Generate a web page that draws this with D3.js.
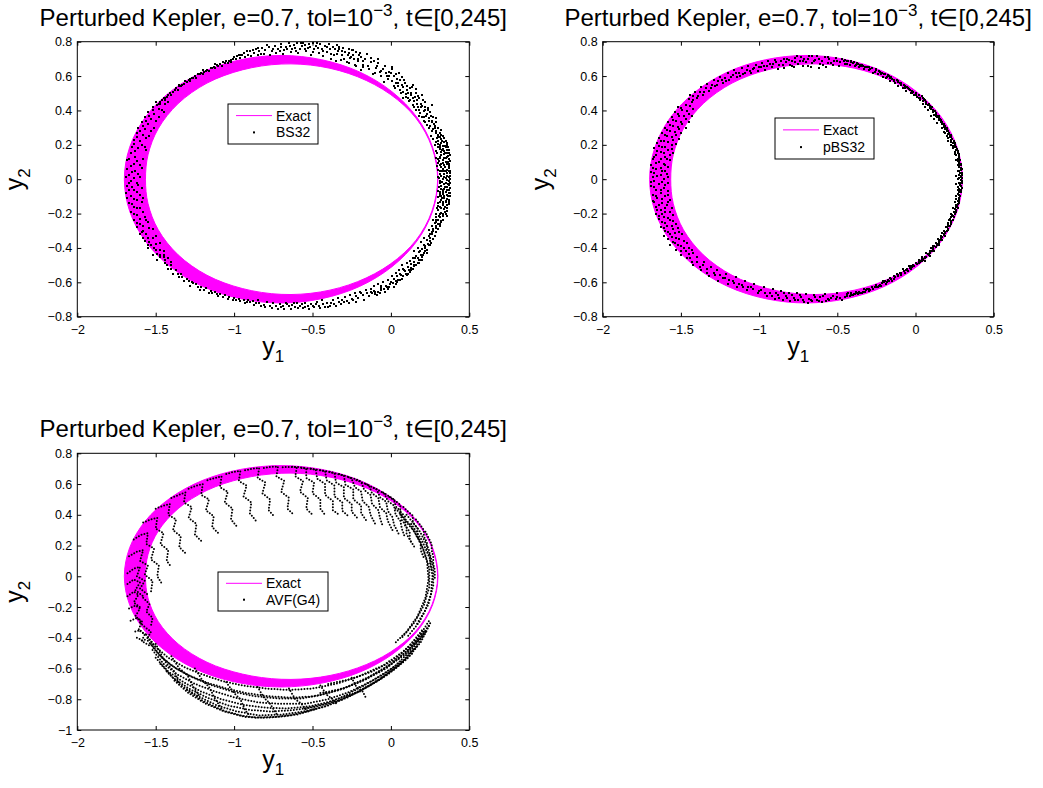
<!DOCTYPE html>
<html>
<head>
<meta charset="utf-8">
<script src="https://cdn.jsdelivr.net/npm/d3@7"></script>
<style>
body { margin: 0; background: #fff; }
text { font-family: "Liberation Sans", Arial, Helvetica, sans-serif; }
</style>
</head>
<body>
<div id="chart"></div>
<script>
// ticks
const xTicks = [-2, -1.5, -1, -0.5, 0, 0.5];
const yTicksTop = [-0.8, -0.6, -0.4, -0.2, 0, 0.2, 0.4, 0.6, 0.8];
const yTicksBottom = [-1, -0.8, -0.6, -0.4, -0.2, 0, 0.2, 0.4, 0.6, 0.8];

// exact solution band (outer / inner edge)
const exactOuter = [[0.30,0],[0.266,0.186],[0.166,0.36],[0.007,0.509],[-0.20,0.624],[-0.441,0.695],[-0.70,0.72],[-0.959,0.695],[-1.20,0.624],[-1.407,0.509],[-1.566,0.36],[-1.666,0.186],[-1.70,0],
  [-1.666,-0.186],[-1.566,-0.36],[-1.407,-0.509],[-1.20,-0.624],[-0.959,-0.695],[-0.70,-0.72],[-0.441,-0.695],[-0.20,-0.624],[0.007,-0.509],[0.166,-0.36],[0.266,-0.186]];
const exactInner = [[0.298,0],[0.262,0.185],[0.160,0.355],[-0.004,0.494],[-0.212,0.596],[-0.449,0.656],[-0.70,0.67],[-0.948,0.636],[-1.173,0.559],[-1.357,0.44],[-1.484,0.294],[-1.549,0.142],[-1.565,0],
  [-1.549,-0.142],[-1.484,-0.294],[-1.357,-0.44],[-1.173,-0.559],[-0.948,-0.636],[-0.70,-0.67],[-0.449,-0.656],[-0.212,-0.596],[-0.004,-0.494],[0.160,-0.355],[0.262,-0.185]];

// BS32 points
const bs32Dots = [
 [-1.50,0.45],[-1.47,0.44],[-1.42,0.45],[-1.52,0.42],[-1.48,0.41],[-1.55,0.39],[-1.51,0.38],[-1.45,0.39],[-1.57,0.36],[-1.53,0.35],[-1.48,0.36],[-1.59,0.33],[-1.55,0.32],[-1.61,0.30],[-1.57,0.29],[-1.51,0.30],[-1.62,0.27],[-1.58,0.26],[-1.54,0.25],[-1.64,0.23],[-1.60,0.22],[-1.65,0.19],[-1.61,0.18],[-1.56,0.17],[-1.66,0.15],[-1.63,0.13],[-1.58,0.12],[-1.68,0.11],[-1.64,0.09],[-1.60,0.08],[-1.68,0.06],[-1.65,0.04],[-1.61,0.03],[-1.69,0.01],[-1.66,-0.01],[-1.62,-0.02],[-1.68,-0.04],[-1.64,-0.06],[-1.59,-0.05],[-1.69,-0.08],[-1.66,-0.10],[-1.62,-0.12],[-1.58,-0.11],[-1.67,-0.14],[-1.64,-0.16],[-1.60,-0.17],[-1.66,-0.19],[-1.62,-0.21],[-1.57,-0.22],[-1.64,-0.24],[-1.60,-0.26],[-1.55,-0.25],[-1.62,-0.28],[-1.58,-0.30],[-1.52,-0.29],[-1.60,-0.32],[-1.55,-0.34],[-1.50,-0.33],[-1.57,-0.36],[-1.53,-0.38],[-1.47,-0.37],[-1.55,-0.40],[-1.50,-0.41],[-1.45,-0.42],[-1.52,-0.44],[-1.47,-0.45],[-1.42,-0.46],[-1.49,-0.47],
 [-1.52,0.40],[-1.46,0.40],[-1.49,0.43],[-1.44,0.44],[-1.54,0.37],[-1.50,0.34],[-1.56,0.34],[-1.58,0.31],[-1.53,0.28],[-1.60,0.28],[-1.56,0.24],[-1.62,0.245],[-1.59,0.20],[-1.64,0.205],[-1.57,0.19],[-1.63,0.165],[-1.67,0.12],[-1.62,0.105],[-1.59,0.065],[-1.66,0.075],[-1.63,0.045],[-1.67,0.025],[-1.60,0.015],[-1.64,0.005],[-1.67,-0.025],[-1.61,-0.035],[-1.65,-0.045],[-1.62,-0.075],[-1.67,-0.065],[-1.60,-0.09],[-1.64,-0.115],[-1.68,-0.11],[-1.59,-0.135],[-1.65,-0.145],[-1.62,-0.165],[-1.58,-0.19],[-1.64,-0.205],[-1.60,-0.23],[-1.56,-0.235],[-1.62,-0.255],[-1.58,-0.275],[-1.54,-0.285],[-1.59,-0.305],[-1.56,-0.32],[-1.52,-0.345],[-1.58,-0.345],[-1.54,-0.365],[-1.50,-0.375],[-1.55,-0.385],[-1.51,-0.40],[-1.47,-0.41],[-1.49,-0.435],[-1.45,-0.44],[-1.44,-0.47],[-1.40,-0.48],
 [-1.47,0.45],[-1.45,0.47],[-1.43,0.48],[-1.44,0.46],[-1.41,0.50],[-1.39,0.51],[-1.40,0.49],[-1.37,0.53],[-1.35,0.54],[-1.36,0.52],[-1.33,0.55],[-1.31,0.57],[-1.32,0.555],[-1.29,0.575],[-1.27,0.59],[-1.28,0.57],[-1.25,0.60],[-1.23,0.61],[-1.24,0.59],[-1.21,0.62],[-1.19,0.625],[-1.20,0.61],[-1.17,0.635],[-1.15,0.645],[-1.16,0.63],[-1.13,0.65],[-1.11,0.665],[-1.12,0.645],[-1.09,0.67],[-1.07,0.68],[-1.08,0.66],[-1.05,0.685],[-1.03,0.69],[-1.04,0.675],[-1.01,0.70],[-1.02,0.68],
 [-1.48,0.44],[-1.46,0.46],[-1.42,0.49],[-1.38,0.52],[-1.34,0.545],[-1.30,0.565],[-1.26,0.59],[-1.22,0.61],[-1.18,0.63],[-1.14,0.645],[-1.10,0.66],[-1.06,0.675],[-1.02,0.695],[-1.00,0.71],[-0.96,0.72],[-1.12,0.67],[-1.20,0.635],[-1.28,0.585],[-1.35,0.55],[-1.44,0.475],
 [-0.99,0.70],[-0.98,0.715],[-0.96,0.705],[-0.95,0.72],[-0.94,0.735],[-0.93,0.71],[-0.91,0.725],[-0.90,0.745],[-0.89,0.715],[-0.87,0.735],[-0.86,0.755],[-0.85,0.72],[-0.84,0.745],[-0.82,0.765],[-0.81,0.73],[-0.80,0.75],[-0.78,0.77],[-0.77,0.725],[-0.76,0.745],[-0.74,0.775],[-0.73,0.735],[-0.72,0.76],[-0.70,0.785],[-0.69,0.73],[-0.68,0.75],[-0.67,0.77],[-0.65,0.79],[-0.64,0.74],[-0.63,0.76],[-0.62,0.78],[-0.60,0.795],[-0.59,0.735],[-0.58,0.755],[-0.57,0.775],[-0.56,0.79],[-0.54,0.745],[-0.53,0.765],[-0.52,0.785],[-0.51,0.725],[-0.49,0.755],[-0.48,0.775],[-0.47,0.79],[-0.46,0.735],[-0.44,0.76],[-0.43,0.715],[-0.42,0.775],[-0.41,0.74],[-0.39,0.755],[-0.38,0.70],[-0.37,0.77],[-0.36,0.725],[-0.34,0.745],[-0.33,0.76],[-0.32,0.695],[-0.31,0.72],[-0.29,0.74],[-0.28,0.68],[-0.27,0.755],[-0.26,0.705],[-0.24,0.725],[-0.23,0.665],[-0.22,0.74],[-0.21,0.69],[-0.19,0.71],[-0.18,0.65],
 [-0.97,0.725],[-0.92,0.745],[-0.88,0.75],[-0.85,0.765],[-0.83,0.73],[-0.79,0.78],[-0.75,0.76],[-0.71,0.745],[-0.70,0.77],[-0.66,0.76],[-0.645,0.775],[-0.61,0.765],[-0.605,0.745],[-0.575,0.795],[-0.55,0.76],[-0.545,0.78],[-0.515,0.77],[-0.50,0.79],[-0.495,0.74],[-0.465,0.765],[-0.45,0.785],[-0.435,0.745],[-0.405,0.77],[-0.395,0.785],[-0.385,0.73],[-0.355,0.76],[-0.345,0.78],[-0.315,0.745],[-0.305,0.765],[-0.275,0.72],[-0.265,0.735],[-0.245,0.75],[-0.235,0.70],[-0.205,0.72],[-0.195,0.735],[-0.175,0.685],[-0.165,0.70],[-0.145,0.66],[-0.125,0.705],[-0.105,0.69],
 [-0.353,0.690],[-0.343,0.729],[-0.333,0.768],[-0.268,0.675],[-0.255,0.713],[-0.242,0.751],[-0.192,0.636],[-0.181,0.664],[-0.166,0.701],[-0.154,0.729],[-0.113,0.612],[-0.095,0.648],[-0.081,0.674],[-0.047,0.564],[-0.026,0.598],[-0.011,0.624],[0.005,0.650],[0.024,0.529],[0.048,0.562],[0.071,0.595],[0.079,0.474],[0.098,0.497],[0.124,0.528],[0.144,0.550],[0.140,0.431],[0.169,0.459],[0.198,0.487],[0.182,0.370],[0.213,0.395],[0.236,0.414],[0.259,0.432],[0.231,0.318],[0.265,0.340],[0.290,0.357],[0.258,0.253],[0.285,0.267],[0.320,0.285],
 [-0.30,0.70],[-0.29,0.74],[-0.22,0.66],[-0.21,0.70],[-0.14,0.64],[-0.13,0.68],[-0.06,0.60],[-0.05,0.64],[0.01,0.57],[0.03,0.61],[0.06,0.52],[0.09,0.56],[0.11,0.50],[0.12,0.46],[0.16,0.50],[0.17,0.42],[0.19,0.44],[0.21,0.36],[0.23,0.38],[0.25,0.31],[0.28,0.31],[0.27,0.29],[0.30,0.26],[0.33,0.25],
 [-0.07,0.625],[-0.04,0.66],[-0.02,0.585],[0.00,0.62],[0.02,0.545],[0.04,0.585],[0.05,0.62],[0.07,0.55],[0.08,0.51],[0.10,0.54],[0.11,0.475],[0.13,0.50],[0.15,0.455],[0.16,0.525],[0.18,0.40],[0.18,0.47],[0.20,0.425],[0.22,0.45],[0.21,0.34],[0.22,0.40],[0.24,0.355],[0.25,0.39],[0.26,0.33],[0.27,0.36],[0.28,0.295],[0.29,0.33],[0.30,0.30],[0.31,0.27],[0.32,0.26],[0.34,0.24],
 [-0.10,0.62],[-0.09,0.66],[-0.08,0.70],[-0.06,0.63],[-0.03,0.62],[-0.01,0.60],[0.01,0.64],[0.02,0.60],[0.035,0.56],[0.045,0.54],[0.06,0.575],[0.065,0.50],[0.08,0.535],[0.085,0.58],[0.095,0.48],[0.105,0.52],[0.115,0.455],[0.125,0.49],[0.135,0.535],[0.14,0.47],[0.145,0.42],[0.155,0.48],[0.16,0.40],[0.165,0.44],[0.175,0.485],[0.185,0.385],[0.19,0.42],[0.20,0.36],[0.205,0.46],[0.215,0.42],[0.22,0.33],[0.225,0.37],[0.235,0.40],[0.24,0.30],[0.245,0.34],[0.255,0.37],[0.265,0.28],[0.275,0.32],[0.29,0.28],[0.30,0.245],
 [0.31,-0.22],[0.33,-0.215],[0.29,-0.20],[0.32,-0.195],[0.35,-0.20],[0.30,-0.18],[0.34,-0.175],[0.31,-0.16],[0.36,-0.165],[0.33,-0.15],[0.30,-0.14],[0.35,-0.135],[0.37,-0.145],[0.32,-0.12],[0.34,-0.11],[0.36,-0.115],[0.31,-0.10],[0.375,-0.10],[0.33,-0.085],[0.35,-0.075],[0.37,-0.08],[0.30,-0.07],[0.34,-0.055],[0.36,-0.045],[0.375,-0.05],[0.32,-0.04],[0.31,-0.02],[0.35,-0.02],[0.37,-0.01],[0.33,0.00],[0.375,0.00],[0.30,0.015],[0.36,0.02],[0.34,0.03],[0.375,0.035],[0.31,0.045],[0.35,0.05],[0.37,0.065],[0.32,0.07],[0.34,0.085],[0.36,0.09],[0.30,0.095],[0.33,0.11],[0.37,0.115],[0.35,0.125],[0.31,0.13],[0.34,0.145],[0.32,0.16],[0.36,0.155],[0.29,0.165],[0.33,0.175],[0.31,0.19],[0.35,0.185],[0.28,0.20],[0.32,0.21],[0.30,0.225],[0.34,0.215],[0.27,0.235],[0.31,0.245],
 [0.32,0.235],[0.35,0.225],[0.30,0.205],[0.36,0.20],[0.33,0.195],[0.31,0.175],[0.37,0.17],[0.34,0.165],[0.375,0.14],[0.32,0.14],[0.36,0.13],[0.30,0.115],[0.375,0.105],[0.35,0.10],[0.32,0.09],[0.37,0.075],[0.33,0.06],[0.36,0.055],[0.30,0.055],[0.375,0.045],[0.34,0.015],[0.32,0.02],[0.37,0.015],[0.36,-0.005],[0.31,-0.01],[0.375,-0.025],[0.34,-0.03],[0.33,-0.06],[0.37,-0.065],[0.31,-0.075],[0.355,-0.09],[0.32,-0.095],[0.37,-0.12],[0.33,-0.13],[0.355,-0.15],[0.30,-0.155],[0.345,-0.19],[0.31,-0.205],[0.36,-0.185],[0.33,-0.235],
 [0.295,0.24],[0.325,0.225],[0.355,0.21],[0.285,0.215],[0.315,0.2],[0.345,0.195],[0.365,0.185],[0.30,0.185],[0.325,0.17],[0.355,0.17],[0.295,0.15],[0.345,0.15],[0.37,0.155],[0.315,0.125],[0.34,0.125],[0.365,0.135],[0.29,0.125],[0.305,0.105],[0.335,0.095],[0.365,0.1],[0.31,0.085],[0.345,0.07],[0.37,0.09],[0.295,0.075],[0.325,0.045],[0.355,0.035],[0.31,0.03],[0.37,0.045],[0.34,0.045],[0.305,0.005],[0.325,-0.015],[0.35,0.005],[0.375,0.02],[0.365,-0.03],[0.32,-0.055],[0.345,-0.045],[0.37,-0.035],[0.305,-0.045],[0.33,-0.075],[0.36,-0.065],[0.375,-0.08],[0.315,-0.085],[0.34,-0.095],[0.365,-0.095],[0.30,-0.105],[0.325,-0.11],[0.35,-0.125],[0.37,-0.13],[0.31,-0.135],[0.335,-0.14],[0.36,-0.15],[0.32,-0.17],[0.345,-0.16],[0.295,-0.165],[0.335,-0.2],[0.305,-0.215],[0.355,-0.215],[0.32,-0.245],[0.29,-0.235],[0.31,-0.275],
 [-0.13,-0.64],[-0.11,-0.62],[-0.10,-0.655],[-0.08,-0.61],[-0.06,-0.635],[-0.05,-0.60],[-0.03,-0.62],[-0.02,-0.585],[0.00,-0.60],[0.01,-0.565],[0.02,-0.58],[0.03,-0.545],[0.04,-0.565],[0.05,-0.53],[0.06,-0.55],[0.08,-0.52],[0.07,-0.50],[0.09,-0.535],[0.10,-0.49],[0.11,-0.51],[0.12,-0.475],[0.13,-0.495],[0.14,-0.46],[0.15,-0.48],[0.16,-0.445],[0.15,-0.42],[0.17,-0.46],[0.18,-0.425],[0.19,-0.44],[0.17,-0.40],[0.20,-0.405],[0.21,-0.38],[0.19,-0.365],[0.22,-0.39],[0.23,-0.355],[0.21,-0.34],[0.24,-0.33],[0.25,-0.345],[0.26,-0.31],[0.24,-0.295],[0.27,-0.29],[0.26,-0.27],[0.28,-0.255],[0.29,-0.27],[0.27,-0.24],[0.30,-0.235],
 [0.20,-0.45],[0.22,-0.42],[0.18,-0.49],[0.14,-0.52],[0.11,-0.55],[0.07,-0.58],[0.03,-0.61],[-0.02,-0.64],[-0.07,-0.66],[0.25,-0.38],[0.28,-0.33],[0.30,-0.29],[0.32,-0.25],
 [0.29,-0.25],[0.31,-0.26],[0.27,-0.30],[0.29,-0.31],[0.25,-0.36],[0.27,-0.35],[0.23,-0.41],[0.24,-0.38],[0.21,-0.43],[0.20,-0.47],[0.16,-0.50],[0.18,-0.47],[0.13,-0.53],[0.15,-0.505],[0.10,-0.56],[0.12,-0.54],[0.06,-0.585],[0.08,-0.565],[0.02,-0.625],[0.04,-0.60],[-0.01,-0.625],[-0.04,-0.655],[-0.06,-0.62],[-0.09,-0.675],[-0.11,-0.65],[-0.14,-0.68],[-0.17,-0.70],[-0.19,-0.66],[-0.22,-0.715],[-0.12,-0.665],
 [0.285,-0.22],[0.30,-0.26],[0.285,-0.285],[0.265,-0.32],[0.25,-0.32],[0.255,-0.37],[0.235,-0.375],[0.23,-0.43],[0.215,-0.40],[0.205,-0.44],[0.19,-0.47],[0.185,-0.42],[0.17,-0.485],[0.155,-0.46],[0.145,-0.50],[0.125,-0.515],[0.115,-0.53],[0.095,-0.55],[0.085,-0.53],[0.065,-0.56],[0.045,-0.585],[0.035,-0.59],[0.015,-0.605],[-0.005,-0.61],[-0.025,-0.63],[-0.045,-0.64],[-0.065,-0.645],[-0.085,-0.655],[-0.10,-0.67],[-0.13,-0.655],
 [-0.84,-0.72],[-0.81,-0.73],[-0.79,-0.715],[-0.77,-0.735],[-0.75,-0.72],[-0.73,-0.74],[-0.71,-0.725],[-0.69,-0.735],[-0.67,-0.72],[-0.65,-0.74],[-0.63,-0.73],[-0.61,-0.745],[-0.60,-0.72],[-0.58,-0.735],[-0.56,-0.75],[-0.55,-0.72],[-0.53,-0.74],[-0.51,-0.725],[-0.49,-0.745],[-0.47,-0.715],[-0.46,-0.735],[-0.44,-0.70],[-0.42,-0.745],[-0.41,-0.72],[-0.39,-0.735],[-0.37,-0.705],[-0.36,-0.725],[-0.34,-0.69],[-0.33,-0.715],[-0.31,-0.70],[-0.29,-0.685],[-0.28,-0.71],[-0.26,-0.675],[-0.25,-0.695],[-0.23,-0.665],[-0.21,-0.69],[-0.20,-0.655],[-0.18,-0.675],[-0.16,-0.645],[-0.15,-0.665],
 [-0.83,-0.735],[-0.80,-0.745],[-0.76,-0.75],[-0.72,-0.755],[-0.70,-0.745],[-0.68,-0.755],[-0.66,-0.725],[-0.64,-0.755],[-0.62,-0.72],[-0.59,-0.75],[-0.57,-0.725],[-0.545,-0.745],[-0.52,-0.755],[-0.50,-0.735],[-0.48,-0.725],[-0.45,-0.75],[-0.43,-0.725],[-0.40,-0.745],[-0.38,-0.72],[-0.35,-0.74],[-0.32,-0.725],[-0.30,-0.715],[-0.27,-0.72],[-0.24,-0.705],[-0.22,-0.68],
 [-1.44,-0.49],[-1.40,-0.50],[-1.42,-0.52],[-1.37,-0.53],[-1.39,-0.55],[-1.34,-0.55],[-1.35,-0.57],[-1.30,-0.58],[-1.32,-0.59],[-1.27,-0.60],[-1.24,-0.61],[-1.28,-0.62],[-1.21,-0.63],[-1.18,-0.635],[-1.22,-0.645],[-1.15,-0.65],[-1.12,-0.655],[-1.16,-0.665],[-1.09,-0.67],[-1.06,-0.675],[-1.10,-0.68],[-1.03,-0.685],[-1.00,-0.69],[-0.97,-0.695],[-1.01,-0.70],[-0.94,-0.70],[-0.91,-0.705],[-0.88,-0.71],[-0.92,-0.715],[-0.86,-0.72],
 [-1.47,-0.44],[-1.45,-0.455],[-1.43,-0.50],[-1.40,-0.52],[-1.36,-0.55],[-1.33,-0.57],[-1.29,-0.595],[-1.26,-0.605],[-1.23,-0.625],[-1.19,-0.645],[-1.14,-0.66],[-1.11,-0.67],[-1.07,-0.685],[-1.04,-0.695],[-0.99,-0.705],[-0.96,-0.71],[-0.93,-0.72],[-0.90,-0.715],[-0.87,-0.73],[-0.85,-0.705]
];

// pBS32 points
const pbs32Dots = [
 [0.06,0.46],[0.03,0.47],[0.05,0.44],[0.08,0.43],[0.06,0.42],[0.10,0.41],[0.08,0.40],[0.11,0.39],[0.12,0.375],[0.10,0.37],[0.14,0.36],[0.12,0.35],[0.15,0.345],[0.16,0.33],[0.14,0.325],[0.18,0.315],[0.17,0.30],[0.19,0.29],[0.20,0.28],[0.18,0.275],[0.21,0.265],[0.20,0.25],[0.22,0.245],[0.23,0.23],[0.21,0.225],[0.24,0.21],[0.23,0.20],[0.25,0.19],[0.24,0.18],[0.26,0.17],[0.25,0.16],[0.27,0.15],[0.26,0.14],[0.28,0.13],[0.27,0.12],[0.26,0.11],[0.28,0.10],[0.29,0.09],[0.27,0.08],[0.28,0.07],[0.29,0.055],[0.27,0.045],[0.30,0.035],[0.28,0.025],[0.26,0.02],[0.29,0.01],[0.27,0.00],[0.30,-0.01],[0.28,-0.02],[0.26,-0.03],[0.29,-0.04],[0.28,-0.055],[0.27,-0.065],[0.29,-0.075],[0.28,-0.09],[0.26,-0.10],[0.28,-0.11],[0.27,-0.125],[0.25,-0.135],[0.27,-0.145],[0.26,-0.16],[0.24,-0.17],[0.26,-0.18],[0.25,-0.195],[0.23,-0.20],[0.24,-0.215],[0.22,-0.23],[0.23,-0.245],[0.21,-0.255],[0.22,-0.27],[0.20,-0.28],[0.21,-0.295],[0.19,-0.305],[0.18,-0.32],[0.19,-0.33],[0.16,-0.34],[0.17,-0.355],[0.15,-0.36],[0.14,-0.375],[0.15,-0.385],[0.12,-0.39],[0.11,-0.405],[0.12,-0.415],[0.09,-0.42],[0.08,-0.435],[0.09,-0.445],[0.06,-0.45],[0.05,-0.465],[0.06,-0.475],[0.03,-0.48],
 [0.05,0.455],[0.07,0.44],[0.09,0.415],[0.11,0.40],[0.13,0.365],[0.13,0.385],[0.15,0.355],[0.16,0.345],[0.17,0.32],[0.18,0.305],[0.20,0.29],[0.19,0.27],[0.22,0.26],[0.21,0.24],[0.23,0.215],[0.25,0.205],[0.24,0.195],[0.26,0.185],[0.27,0.165],[0.25,0.145],[0.28,0.14],[0.27,0.105],[0.285,0.085],[0.29,0.065],[0.28,0.045],[0.29,0.02],[0.28,0.005],[0.29,-0.025],[0.27,-0.045],[0.285,-0.065],[0.27,-0.085],[0.285,-0.10],[0.26,-0.115],[0.275,-0.135],[0.26,-0.15],[0.25,-0.175],[0.245,-0.19],[0.235,-0.21],[0.225,-0.22],[0.215,-0.24],[0.205,-0.265],[0.195,-0.28],[0.18,-0.30],[0.17,-0.315],[0.16,-0.33],[0.145,-0.35],[0.13,-0.37],[0.11,-0.39],[0.10,-0.40],[0.07,-0.43],[0.04,-0.455],[0.02,-0.47],[0.04,-0.475],
 [0.045,0.47],[0.055,0.465],[0.07,0.45],[0.085,0.44],[0.09,0.425],[0.105,0.42],[0.115,0.405],[0.125,0.395],[0.13,0.38],[0.14,0.37],[0.15,0.365],[0.155,0.35],[0.165,0.34],[0.17,0.33],[0.18,0.32],[0.19,0.31],[0.195,0.30],[0.2,0.295],[0.21,0.28],[0.215,0.27],[0.225,0.255],[0.23,0.245],[0.235,0.235],[0.245,0.225],[0.25,0.21],[0.255,0.2],[0.26,0.19],[0.265,0.175],[0.27,0.16],[0.275,0.145],[0.28,0.12],[0.285,0.11],[0.275,0.095],[0.29,0.08],[0.295,0.06],[0.285,0.035],[0.295,0.025],[0.3,0.005],[0.29,-0.005],[0.295,-0.02],[0.285,-0.035],[0.295,-0.05],[0.29,-0.065],[0.28,-0.075],[0.285,-0.095],[0.28,-0.12],[0.275,-0.14],[0.265,-0.155],[0.27,-0.17],[0.26,-0.19],[0.255,-0.2],[0.245,-0.22],[0.24,-0.235],[0.23,-0.25],[0.225,-0.26],[0.215,-0.275],[0.205,-0.29],[0.2,-0.3],[0.19,-0.315],[0.18,-0.325],[0.17,-0.335],[0.165,-0.345],[0.155,-0.355],[0.15,-0.37],[0.135,-0.38],[0.13,-0.395],[0.115,-0.4],[0.105,-0.415],[0.095,-0.43],[0.085,-0.44],[0.07,-0.45],[0.06,-0.46],[0.05,-0.47],[0.035,-0.475],[0.025,-0.49],
 [0.02,0.49],[0.00,0.50],[-0.01,0.49],[-0.02,0.515],[-0.03,0.50],[-0.05,0.53],[-0.06,0.515],[-0.07,0.545],[-0.08,0.53],[-0.10,0.56],[-0.11,0.545],[-0.12,0.575],[-0.13,0.56],[-0.15,0.585],[-0.16,0.57],[-0.17,0.60],[-0.19,0.59],[-0.20,0.61],[-0.21,0.595],[-0.23,0.625],[-0.24,0.61],[-0.25,0.635],[-0.27,0.62],[-0.28,0.645],[-0.30,0.635],[-0.31,0.65],[-0.33,0.64],[-0.34,0.665],[-0.36,0.65],[-0.37,0.67],[-0.39,0.66],[-0.40,0.675],[-0.42,0.665],[-0.43,0.685],[-0.45,0.67],[-0.46,0.69],
 [-0.02,0.50],[-0.04,0.525],[-0.07,0.53],[-0.09,0.55],[-0.11,0.565],[-0.14,0.57],[-0.16,0.59],[-0.18,0.595],[-0.22,0.61],[-0.26,0.625],[-0.29,0.64],[-0.32,0.655],[-0.35,0.66],[-0.38,0.665],[-0.41,0.68],[0.01,0.48],[0.03,0.46],[0.04,0.485],
 [-0.015,0.505],[-0.035,0.52],[-0.055,0.535],[-0.075,0.55],[-0.095,0.56],[-0.115,0.57],[-0.135,0.58],[-0.155,0.595],[-0.175,0.605],[-0.195,0.61],[-0.215,0.62],[-0.235,0.63],[-0.255,0.64],[-0.275,0.645],[-0.295,0.65],[-0.315,0.655],[-0.335,0.66],[-0.355,0.665],[-0.375,0.675],[-0.395,0.68],[-0.415,0.685],[-0.435,0.69],[0.005,0.49],[0.025,0.475],
 [0.01,-0.495],[-0.01,-0.505],[0.00,-0.49],[-0.03,-0.52],[-0.04,-0.505],[-0.05,-0.535],[-0.07,-0.545],[-0.08,-0.525],[-0.09,-0.555],[-0.11,-0.565],[-0.12,-0.55],[-0.14,-0.58],[-0.15,-0.59],[-0.16,-0.575],[-0.18,-0.60],[-0.19,-0.61],[-0.21,-0.595],[-0.22,-0.62],[-0.24,-0.63],[-0.25,-0.615],[-0.27,-0.64],[-0.28,-0.63],[-0.30,-0.65],[-0.32,-0.655],[-0.33,-0.64],[-0.35,-0.665],[-0.37,-0.67],[-0.38,-0.655],[-0.40,-0.675],[-0.42,-0.68],[-0.43,-0.665],[-0.45,-0.685],
 [-0.02,-0.51],[-0.03,-0.505],[-0.06,-0.53],[-0.10,-0.545],[-0.13,-0.57],[-0.17,-0.59],[-0.20,-0.60],[-0.23,-0.615],[-0.26,-0.625],[-0.29,-0.645],[-0.31,-0.64],[-0.34,-0.66],[-0.36,-0.655],[-0.39,-0.67],[-0.41,-0.665],[0.02,-0.485],[0.04,-0.465],
 [-0.015,-0.5],[-0.035,-0.515],[-0.055,-0.52],[-0.075,-0.535],[-0.095,-0.545],[-0.115,-0.555],[-0.135,-0.565],[-0.155,-0.58],[-0.175,-0.585],[-0.195,-0.595],[-0.215,-0.605],[-0.235,-0.62],[-0.255,-0.625],[-0.275,-0.63],[-0.295,-0.64],[-0.315,-0.645],[-0.335,-0.655],[-0.355,-0.66],[-0.375,-0.665],[-0.395,-0.67],[-0.415,-0.675],[-0.435,-0.68],[0.005,-0.485],[0.025,-0.475],
 [-0.47,0.70],[-0.48,0.68],[-0.49,0.66],[-0.51,0.705],[-0.52,0.685],[-0.53,0.665],[-0.55,0.70],[-0.56,0.675],[-0.57,0.655],[-0.58,0.71],[-0.60,0.69],[-0.61,0.67],[-0.62,0.645],[-0.63,0.715],[-0.64,0.695],[-0.66,0.675],[-0.67,0.655],[-0.68,0.715],[-0.69,0.70],[-0.70,0.68],[-0.72,0.66],[-0.73,0.71],[-0.74,0.69],[-0.75,0.67],[-0.77,0.705],[-0.78,0.65],[-0.79,0.685],[-0.80,0.665],[-0.82,0.70],[-0.83,0.68],[-0.84,0.645],[-0.86,0.69],[-0.87,0.665],[-0.88,0.64],[-0.90,0.695],[-0.91,0.67],[-0.92,0.65],[-0.94,0.685],[-0.95,0.66],[-0.96,0.635],
 [-0.44,0.67],[-0.45,0.695],[-0.50,0.685],[-0.54,0.675],[-0.56,0.71],[-0.59,0.665],[-0.62,0.70],[-0.65,0.685],[-0.66,0.715],[-0.69,0.66],[-0.71,0.70],[-0.72,0.685],[-0.76,0.715],[-0.77,0.68],[-0.79,0.66],[-0.81,0.695],[-0.84,0.70],[-0.85,0.665],[-0.89,0.68],[-0.93,0.67],[-0.97,0.66],[-1.00,0.655],[-1.03,0.645],[-1.06,0.63],[-1.09,0.62],[-1.12,0.60],[-1.15,0.615],[-1.18,0.595],[-1.21,0.57],[-1.24,0.58],[-1.27,0.55],[-1.31,0.53],[-1.35,0.51],[-1.39,0.485],[-1.42,0.46],
 [-0.98,0.675],[-0.99,0.65],[-1.01,0.63],[-1.02,0.665],[-1.04,0.64],[-1.05,0.615],[-1.07,0.66],[-1.08,0.635],[-1.10,0.61],[-1.11,0.645],[-1.13,0.62],[-1.14,0.595],[-1.16,0.635],[-1.17,0.605],[-1.19,0.58],[-1.20,0.615],[-1.22,0.59],[-1.23,0.56],[-1.25,0.595],[-1.26,0.57],[-1.28,0.54],[-1.29,0.575],[-1.30,0.55],[-1.32,0.515],[-1.33,0.555],[-1.34,0.53],[-1.36,0.49],[-1.37,0.535],[-1.38,0.505],[-1.40,0.47],[-1.41,0.51],[-1.42,0.485],[-1.43,0.45],[-1.44,0.49],[-1.45,0.465],
 [-1.47,0.43],[-1.52,0.42],[-1.42,0.41],[-1.49,0.40],[-1.54,0.39],[-1.45,0.38],[-1.51,0.37],[-1.56,0.36],[-1.47,0.35],[-1.53,0.34],[-1.58,0.33],[-1.49,0.32],[-1.55,0.31],[-1.60,0.30],[-1.51,0.29],[-1.57,0.28],[-1.62,0.27],[-1.53,0.26],[-1.59,0.25],[-1.64,0.24],[-1.55,0.23],[-1.61,0.22],[-1.65,0.21],[-1.56,0.20],[-1.62,0.19],[-1.67,0.18],[-1.58,0.17],[-1.63,0.16],[-1.55,0.15],[-1.66,0.14],[-1.60,0.13],[-1.68,0.12],[-1.57,0.11],[-1.64,0.10],[-1.61,0.09],[-1.69,0.08],[-1.58,0.07],[-1.66,0.06],[-1.62,0.05],[-1.69,0.04],[-1.59,0.03],[-1.65,0.02],[-1.68,0.01],[-1.61,0.00],[-1.67,-0.01],[-1.58,-0.02],[-1.64,-0.03],[-1.69,-0.04],[-1.61,-0.05],[-1.66,-0.06],[-1.58,-0.07],[-1.63,-0.08],[-1.68,-0.09],[-1.60,-0.10],[-1.65,-0.11],[-1.57,-0.12],[-1.67,-0.13],[-1.62,-0.14],[-1.59,-0.15],[-1.66,-0.16],[-1.56,-0.17],[-1.63,-0.18],[-1.60,-0.19],[-1.66,-0.20],[-1.55,-0.21],[-1.61,-0.22],[-1.64,-0.23],[-1.57,-0.24],[-1.62,-0.25],[-1.53,-0.26],[-1.59,-0.27],[-1.63,-0.28],[-1.55,-0.29],[-1.60,-0.30],[-1.51,-0.31],[-1.57,-0.32],[-1.61,-0.33],[-1.53,-0.34],[-1.58,-0.35],[-1.48,-0.36],[-1.54,-0.37],[-1.57,-0.38],[-1.50,-0.39],[-1.45,-0.40],[-1.53,-0.41],[-1.47,-0.42],[-1.42,-0.43],[-1.50,-0.44],
 [-1.50,0.415],[-1.44,0.425],[-1.46,0.395],[-1.52,0.38],[-1.43,0.37],[-1.48,0.365],[-1.55,0.345],[-1.50,0.335],[-1.45,0.33],[-1.57,0.315],[-1.52,0.305],[-1.47,0.30],[-1.59,0.285],[-1.54,0.275],[-1.50,0.27],[-1.60,0.255],[-1.56,0.245],[-1.51,0.235],[-1.63,0.225],[-1.58,0.215],[-1.53,0.205],[-1.64,0.195],[-1.60,0.185],[-1.56,0.175],[-1.65,0.165],[-1.61,0.155],[-1.57,0.14],[-1.67,0.13],[-1.63,0.12],[-1.59,0.115],[-1.66,0.095],[-1.60,0.085],[-1.68,0.065],[-1.63,0.065],[-1.60,0.045],[-1.67,0.035],[-1.63,0.025],[-1.58,0.01],[-1.69,-0.015],[-1.62,-0.015],[-1.60,-0.035],[-1.67,-0.045],[-1.63,-0.06],[-1.58,-0.09],[-1.66,-0.095],[-1.62,-0.115],[-1.68,-0.125],[-1.58,-0.135],[-1.64,-0.15],[-1.60,-0.165],[-1.65,-0.18],[-1.57,-0.19],[-1.62,-0.205],[-1.58,-0.225],[-1.64,-0.215],[-1.55,-0.245],[-1.60,-0.255],[-1.56,-0.27],[-1.61,-0.285],[-1.52,-0.285],[-1.58,-0.31],[-1.54,-0.315],[-1.49,-0.32],[-1.56,-0.335],[-1.51,-0.35],[-1.55,-0.365],[-1.46,-0.37],[-1.52,-0.385],[-1.48,-0.40],[-1.43,-0.41],[-1.50,-0.42],[-1.45,-0.435],
 [-1.46,-0.46],[-1.43,-0.48],[-1.40,-0.45],[-1.42,-0.50],[-1.38,-0.51],[-1.35,-0.48],[-1.37,-0.53],[-1.33,-0.545],[-1.31,-0.51],[-1.32,-0.565],[-1.28,-0.56],[-1.27,-0.53],[-1.26,-0.59],[-1.23,-0.575],[-1.21,-0.55],[-1.20,-0.61],[-1.17,-0.595],[-1.15,-0.57],[-1.14,-0.63],[-1.11,-0.615],[-1.09,-0.595],[-1.08,-0.645],[-1.05,-0.63],[-1.03,-0.61],[-1.01,-0.665],[-0.99,-0.645],[-0.97,-0.625],
 [-0.44,-0.67],[-0.47,-0.70],[-0.50,-0.685],[-0.54,-0.69],[-0.57,-0.71],[-0.59,-0.68],[-0.62,-0.71],[-0.64,-0.685],[-0.67,-0.70],[-0.69,-0.72],[-0.72,-0.70],[-0.74,-0.675],[-0.77,-0.70],[-0.79,-0.675],[-0.82,-0.69],[-0.84,-0.665],[-0.87,-0.69],[-0.89,-0.66],[-0.92,-0.68],[-0.96,-0.66],[-1.00,-0.65],[-1.04,-0.64],[-1.07,-0.625],[-1.10,-0.63],[-1.13,-0.61],[-1.16,-0.605],[-1.19,-0.585],[-1.22,-0.575],[-1.25,-0.56],[-1.29,-0.545],[-1.33,-0.52],[-1.36,-0.50],[-1.40,-0.48],[-1.44,-0.46],
 [-0.95,-0.68],[-0.93,-0.66],[-0.91,-0.64],[-0.90,-0.695],[-0.88,-0.675],[-0.86,-0.65],[-0.85,-0.70],[-0.83,-0.68],[-0.81,-0.66],[-0.80,-0.71],[-0.78,-0.69],[-0.76,-0.665],[-0.75,-0.705],[-0.73,-0.685],[-0.71,-0.715],[-0.70,-0.67],[-0.68,-0.695],[-0.66,-0.71],[-0.65,-0.675],[-0.63,-0.70],[-0.61,-0.685],[-0.60,-0.715],[-0.58,-0.67],[-0.56,-0.695],[-0.55,-0.705],[-0.53,-0.68],[-0.51,-0.695],[-0.50,-0.665],[-0.48,-0.69]
];

// AVF(G4): its points fall in chains, kept as the chain vertices
const avfChains = [
 [[-1.68,0.02],[-1.64,0.05],[-1.60,0.06],[-1.62,0.00],[-1.57,-0.03],[-1.60,-0.08],[-1.55,-0.12]],
 [[-1.67,0.13],[-1.62,0.16],[-1.58,0.17],[-1.60,0.10],[-1.55,0.07],[-1.57,0.01],[-1.52,-0.03],[-1.53,-0.10]],
 [[-1.64,0.24],[-1.59,0.27],[-1.55,0.28],[-1.56,0.21],[-1.51,0.18],[-1.53,0.11],[-1.48,0.07],[-1.49,0.00],[-1.46,-0.05]],
 [[-1.58,0.35],[-1.53,0.37],[-1.49,0.38],[-1.50,0.31],[-1.45,0.28],[-1.47,0.21],[-1.42,0.17],[-1.43,0.10],[-1.40,0.06]],
 [[-1.50,0.44],[-1.45,0.46],[-1.41,0.47],[-1.42,0.40],[-1.37,0.37],[-1.39,0.30],[-1.34,0.26],[-1.35,0.19],[-1.31,0.15]],
 [[-1.40,0.51],[-1.35,0.53],[-1.31,0.545],[-1.32,0.48],[-1.27,0.45],[-1.29,0.38],[-1.24,0.34],[-1.25,0.27],[-1.21,0.23]],
 [[-1.29,0.57],[-1.24,0.59],[-1.20,0.60],[-1.21,0.53],[-1.16,0.50],[-1.18,0.43],[-1.13,0.39],[-1.14,0.32],[-1.10,0.28]],
 [[-1.17,0.625],[-1.12,0.64],[-1.08,0.65],[-1.09,0.58],[-1.04,0.55],[-1.06,0.48],[-1.01,0.44],[-1.02,0.37],[-0.98,0.32]],
 [[-1.05,0.665],[-1.00,0.68],[-0.96,0.685],[-0.97,0.62],[-0.92,0.59],[-0.94,0.52],[-0.89,0.48],[-0.90,0.41],[-0.86,0.36]],
 [[-0.93,0.69],[-0.88,0.70],[-0.84,0.705],[-0.85,0.64],[-0.80,0.61],[-0.82,0.54],[-0.77,0.50],[-0.78,0.43],[-0.74,0.385]],
 [[-0.81,0.705],[-0.76,0.712],[-0.72,0.714],[-0.73,0.65],[-0.68,0.62],[-0.70,0.55],[-0.65,0.51],[-0.66,0.44],[-0.62,0.40]],
 [[-0.69,0.71],[-0.64,0.712],[-0.60,0.71],[-0.61,0.65],[-0.56,0.62],[-0.58,0.55],[-0.53,0.51],[-0.54,0.44],[-0.50,0.40]],
 [[-0.63,0.712],[-0.58,0.71],[-0.54,0.70],[-0.54,0.64],[-0.49,0.61],[-0.50,0.54],[-0.45,0.50],[-0.45,0.44],[-0.42,0.40]],
 [[-0.57,0.705],[-0.52,0.70],[-0.48,0.695],[-0.47,0.635],[-0.42,0.60],[-0.42,0.53],[-0.37,0.49],[-0.37,0.43],[-0.33,0.40]],
 [[-0.51,0.70],[-0.46,0.69],[-0.42,0.685],[-0.41,0.625],[-0.36,0.59],[-0.36,0.52],[-0.31,0.48],[-0.31,0.425],[-0.27,0.39]],
 [[-0.45,0.69],[-0.40,0.68],[-0.36,0.67],[-0.35,0.61],[-0.30,0.58],[-0.30,0.51],[-0.25,0.47],[-0.25,0.42],[-0.21,0.375]],
 [[-0.39,0.68],[-0.34,0.665],[-0.30,0.655],[-0.29,0.595],[-0.24,0.565],[-0.24,0.50],[-0.19,0.46],[-0.19,0.41],[-0.155,0.36]],
 [[-0.33,0.665],[-0.28,0.65],[-0.25,0.635],[-0.23,0.58],[-0.19,0.55],[-0.18,0.49],[-0.14,0.45],[-0.13,0.40],[-0.10,0.34]],
 [[-0.27,0.645],[-0.22,0.63],[-0.19,0.615],[-0.17,0.56],[-0.13,0.53],[-0.12,0.47],[-0.08,0.43],[-0.07,0.38],[-0.05,0.32]],
 [[-0.22,0.625],[-0.17,0.605],[-0.14,0.59],[-0.12,0.54],[-0.08,0.51],[-0.07,0.45],[-0.03,0.41],[-0.02,0.36],[0.01,0.30]],
 [[-0.16,0.60],[-0.12,0.58],[-0.09,0.565],[-0.07,0.515],[-0.03,0.485],[-0.02,0.425],[0.01,0.385],[0.02,0.335],[0.05,0.275]],
 [[-0.11,0.575],[-0.07,0.555],[-0.04,0.535],[-0.02,0.49],[0.02,0.46],[0.03,0.40],[0.06,0.36],[0.07,0.31],[0.09,0.25]],
 [[-0.05,0.545],[-0.01,0.52],[0.02,0.50],[0.03,0.455],[0.06,0.425],[0.07,0.365],[0.10,0.325],[0.10,0.275],[0.13,0.22]],
 [[-0.01,0.515],[0.03,0.49],[0.06,0.465],[0.06,0.42],[0.09,0.39],[0.09,0.33],[0.12,0.29],[0.12,0.24],[0.15,0.19]],
 [[0.08,0.45],[0.11,0.42],[0.14,0.395],[0.14,0.35],[0.17,0.31],[0.17,0.26],[0.19,0.22],[0.19,0.17],[0.21,0.12]],
 [[0.16,0.37],[0.19,0.33],[0.21,0.30],[0.21,0.26],[0.23,0.22],[0.23,0.17],[0.25,0.13],[0.25,0.08],[0.26,0.04]],
 [[0.22,0.29],[0.24,0.25],[0.26,0.21],[0.26,0.17],[0.27,0.13],[0.27,0.08],[0.28,0.04],[0.28,-0.01]],
 [[-1.68,-0.05],[-1.64,-0.02],[-1.60,-0.04],[-1.63,-0.09],[-1.58,-0.13]],
 [[-1.68,-0.13],[-1.64,-0.10],[-1.61,-0.12],[-1.64,-0.17],[-1.59,-0.21]],
 [[-1.67,-0.21],[-1.63,-0.19],[-1.60,-0.21],[-1.63,-0.26],[-1.58,-0.30]],
 [[-1.66,-0.29],[-1.62,-0.27],[-1.59,-0.30],[-1.61,-0.35],[-1.56,-0.38]],
 [[-1.63,-0.36],[-1.60,-0.35],[-1.57,-0.38],[-1.59,-0.42],[-1.54,-0.45]],
 [[-1.58,-0.14],[-1.54,-0.18],[-1.56,-0.23],[-1.52,-0.27],[-1.53,-0.32]],
 [[-1.62,-0.40],[-1.58,-0.42],[-1.55,-0.40],[-1.52,-0.44],[-1.49,-0.47]],
 [[-1.60,-0.30],[-1.57,-0.33],[-1.53,-0.36],[-1.55,-0.40]],
 [[-1.56,-0.38],[-1.50,-0.46],[-1.42,-0.53],[-1.32,-0.59],[-1.20,-0.64],[-1.08,-0.68],[-0.95,-0.71],[-0.80,-0.73],[-0.65,-0.74],[-0.50,-0.73],[-0.35,-0.70],[-0.20,-0.65],[-0.05,-0.58],[0.08,-0.49],[0.18,-0.39],[0.25,-0.28]],
 [[-1.55,-0.42],[-1.48,-0.51],[-1.40,-0.58],[-1.30,-0.64],[-1.18,-0.69],[-1.05,-0.73],[-0.92,-0.76],[-0.78,-0.78],[-0.63,-0.79],[-0.48,-0.78],[-0.33,-0.74],[-0.18,-0.68],[-0.04,-0.60],[0.09,-0.51],[0.19,-0.40],[0.26,-0.29]],
 [[-1.53,-0.44],[-1.46,-0.53],[-1.37,-0.60],[-1.26,-0.66],[-1.14,-0.71],[-1.01,-0.75],[-0.87,-0.78],[-0.72,-0.795],[-0.57,-0.795],[-0.42,-0.765],[-0.28,-0.72],[-0.14,-0.655],[0.00,-0.57],[0.12,-0.47],[0.21,-0.36]],
 [[-1.52,-0.48],[-1.45,-0.57],[-1.36,-0.64],[-1.25,-0.70],[-1.12,-0.75],[-0.99,-0.79],[-0.85,-0.82],[-0.70,-0.83],[-0.55,-0.83],[-0.40,-0.80],[-0.26,-0.75],[-0.12,-0.68],[0.02,-0.59],[0.13,-0.48],[0.22,-0.36]],
 [[-1.50,-0.53],[-1.42,-0.62],[-1.32,-0.69],[-1.21,-0.75],[-1.08,-0.80],[-0.95,-0.835],[-0.80,-0.855],[-0.66,-0.86],[-0.51,-0.845],[-0.37,-0.81],[-0.23,-0.76],[-0.10,-0.69],[0.03,-0.60],[0.14,-0.50]],
 [[-1.47,-0.57],[-1.39,-0.66],[-1.29,-0.73],[-1.17,-0.79],[-1.04,-0.84],[-0.90,-0.87],[-0.76,-0.88],[-0.62,-0.87],[-0.48,-0.85],[-0.34,-0.81],[-0.20,-0.75],[-0.07,-0.67],[0.06,-0.57],[0.16,-0.46],[0.23,-0.35]],
 [[-1.43,-0.62],[-1.34,-0.71],[-1.23,-0.78],[-1.11,-0.84],[-0.98,-0.88],[-0.84,-0.905],[-0.70,-0.90],[-0.56,-0.88],[-0.43,-0.85],[-0.31,-0.80],[-0.18,-0.735],[-0.05,-0.655],[0.07,-0.56],[0.17,-0.45]],
 [[-1.38,-0.68],[-1.29,-0.76],[-1.18,-0.83],[-1.06,-0.88],[-0.93,-0.915],[-0.80,-0.92],[-0.67,-0.91],[-0.53,-0.88],[-0.40,-0.84],[-0.28,-0.79],[-0.15,-0.72],[-0.02,-0.64],[0.10,-0.54],[0.19,-0.43],[0.25,-0.31]],
 [[-1.30,-0.74],[-1.20,-0.81],[-1.08,-0.87],[-0.96,-0.905],[-0.86,-0.92],[-0.74,-0.915],[-0.60,-0.90],[-0.47,-0.86]],
 [[-0.45,-0.76],[-0.30,-0.73],[-0.16,-0.67],[-0.03,-0.60],[0.09,-0.50],[0.18,-0.40]],
 [[-0.40,-0.70],[-0.26,-0.67],[-0.12,-0.62],[0.01,-0.55],[0.12,-0.45],[0.20,-0.35]],
 [[-0.55,-0.86],[-0.42,-0.83],[-0.30,-0.78],[-0.17,-0.71],[-0.05,-0.64],[0.07,-0.55]],
 [[-1.50,-0.44],[-1.46,-0.52],[-1.43,-0.57],[-1.38,-0.62],[-1.35,-0.70]],
 [[-1.40,-0.52],[-1.35,-0.60],[-1.30,-0.64],[-1.26,-0.72],[-1.22,-0.78]],
 [[-1.25,-0.60],[-1.20,-0.68],[-1.16,-0.72],[-1.12,-0.80],[-1.08,-0.86]],
 [[-1.05,-0.69],[-1.00,-0.76],[-0.96,-0.80],[-0.93,-0.87],[-0.90,-0.91]],
 [[-0.85,-0.72],[-0.81,-0.79],[-0.77,-0.83],[-0.74,-0.88],[-0.72,-0.91]],
 [[-0.65,-0.73],[-0.61,-0.80],[-0.57,-0.83],[-0.54,-0.87]],
 [[-0.45,-0.71],[-0.41,-0.77],[-0.37,-0.80],[-0.34,-0.84]],
 [[-0.25,-0.66],[-0.22,-0.72],[-0.18,-0.75],[-0.16,-0.79]],
 [[0.10,0.40],[0.18,0.30],[0.24,0.18],[0.27,0.06],[0.27,-0.06],[0.24,-0.18],[0.18,-0.30],[0.10,-0.40]],
 [[0.06,0.40],[0.15,0.29],[0.21,0.17],[0.245,0.05],[0.245,-0.07],[0.21,-0.19],[0.15,-0.30],[0.07,-0.40]],
 [[0.13,0.34],[0.20,0.23],[0.25,0.11],[0.265,0.0],[0.255,-0.12],[0.22,-0.22],[0.16,-0.32]],
 [[0.03,0.44],[0.12,0.34],[0.19,0.22],[0.23,0.10],[0.24,-0.02],[0.22,-0.14],[0.17,-0.26],[0.10,-0.36],[0.02,-0.44]]
];

const titleMain = "Perturbed Kepler, e=0.7, tol=10";
const titleExp = "\u22123";
const titleTail = ", t\u2208[0,245]";

const panels = [
  { left: 77.3, right: 469.3, top: 41.7, bottom: 316.7, yDomain: [-0.8, 0.8], yTicks: yTicksTop,
    name: "BS32", dots: bs32Dots, chains: null, legend: { x: 228, y: 104, w: 90, h: 40 } },
  { left: 602.7, right: 993.7, top: 41.7, bottom: 316.7, yDomain: [-0.8, 0.8], yTicks: yTicksTop,
    name: "pBS32", dots: pbs32Dots, chains: null, legend: { x: 775, y: 118, w: 99, h: 41 } },
  { left: 77.3, right: 469.3, top: 453.3, bottom: 730, yDomain: [-1, 0.8], yTicks: yTicksBottom,
    name: "AVF(G4)", dots: [], chains: avfChains, legend: { x: 218, y: 572, w: 110, h: 39 } }
];

const svg = d3.select("#chart").append("svg")
  .attr("width", 1043).attr("height", 788);

function fmt(d) {
  const s = Number.isInteger(d) ? String(d) : d.toFixed(1);
  return s.replace("-", "\u2212");
}

panels.forEach((p, i) => {
  const x = d3.scaleLinear().domain([-2, 0.5]).range([p.left, p.right]);
  const y = d3.scaleLinear().domain(p.yDomain).range([p.bottom, p.top]);
  const g = svg.append("g");
  const clipId = "clip" + i;
  g.append("clipPath").attr("id", clipId).append("rect")
    .attr("x", p.left).attr("y", p.top)
    .attr("width", p.right - p.left).attr("height", p.bottom - p.top);

  const plot = g.append("g").attr("clip-path", `url(#${clipId})`);

  // exact band
  const ring = d3.line().x(d => x(d[0])).y(d => y(d[1])).curve(d3.curveCatmullRomClosed);
  plot.append("path")
    .attr("d", ring(exactOuter) + ring(exactInner))
    .attr("fill", "#ff00ff")
    .attr("fill-rule", "evenodd")
    .attr("stroke", "#ff00ff")
    .attr("stroke-width", 1);

  // points
  plot.selectAll("rect.pt").data(p.dots).enter().append("rect")
    .attr("class", "pt")
    .attr("x", d => Math.round(x(d[0])) - 1).attr("y", d => Math.round(y(d[1])) - 1)
    .attr("width", 2).attr("height", 2).attr("fill", "#000")
    .attr("shape-rendering", "crispEdges");

  if (p.chains) {
    const chainLine = d3.line().x(d => x(d[0])).y(d => y(d[1]));
    plot.selectAll("path.chain").data(p.chains).enter().append("path")
      .attr("class", "chain")
      .attr("d", chainLine)
      .attr("fill", "none")
      .attr("stroke", "#000")
      .attr("stroke-width", 2)
      .attr("stroke-linecap", "round")
      .attr("stroke-dasharray", "0 3");
  }

  // axes, ticks inside on all four sides
  const fontTick = g => g.selectAll("text").attr("font-size", 12.5).attr("fill", "#000")
    .style("font-family", '"Liberation Sans", Arial, sans-serif');
  const tidy = g => { g.select(".domain").remove(); g.selectAll("line").attr("stroke", "#000"); };
  g.append("g").attr("transform", `translate(0,${p.bottom})`)
    .call(d3.axisBottom(x).tickValues(xTicks).tickSize(-4).tickPadding(8).tickFormat(fmt))
    .call(tidy).call(fontTick);
  g.append("g").attr("transform", `translate(0,${p.top})`)
    .call(d3.axisTop(x).tickValues(xTicks).tickSize(-4).tickFormat(""))
    .call(tidy);
  g.append("g").attr("transform", `translate(${p.left},0)`)
    .call(d3.axisLeft(y).tickValues(p.yTicks).tickSize(-4).tickPadding(5).tickFormat(fmt))
    .call(tidy).call(fontTick);
  g.append("g").attr("transform", `translate(${p.right},0)`)
    .call(d3.axisRight(y).tickValues(p.yTicks).tickSize(-4).tickFormat(""))
    .call(tidy);
  g.append("rect")
    .attr("x", p.left).attr("y", p.top)
    .attr("width", p.right - p.left).attr("height", p.bottom - p.top)
    .attr("fill", "none").attr("stroke", "#000").attr("stroke-width", 1);

  // title
  const cx = (p.left + p.right) / 2;
  const t = g.append("text").attr("x", cx).attr("y", p.top - 16)
    .attr("text-anchor", "middle").attr("font-size", 24).attr("fill", "#000");
  t.append("tspan").text(titleMain);
  t.append("tspan").attr("dy", -10).attr("font-size", 17).text(titleExp);
  t.append("tspan").attr("dy", 10).text(titleTail);

  // axis labels
  const xl = g.append("text").attr("x", cx).attr("y", p.bottom + 38)
    .attr("text-anchor", "middle").attr("font-size", 25).attr("fill", "#000");
  xl.append("tspan").text("y");
  xl.append("tspan").attr("dy", 7).attr("font-size", 17).text("1");
  const yl = g.append("text")
    .attr("transform", `translate(${p.left - 54},${(p.top + p.bottom) / 2}) rotate(-90)`)
    .attr("text-anchor", "middle").attr("font-size", 25).attr("fill", "#000");
  yl.append("tspan").text("y");
  yl.append("tspan").attr("dy", 7).attr("font-size", 17).text("2");

  // legend
  const L = p.legend;
  const lg = g.append("g");
  lg.append("rect").attr("x", L.x).attr("y", L.y).attr("width", L.w).attr("height", L.h)
    .attr("fill", "#fff").attr("stroke", "#000").attr("stroke-width", 1);
  const r1 = L.y + L.h * 0.29, r2 = L.y + L.h * 0.71;
  lg.append("line").attr("x1", L.x + 8).attr("x2", L.x + 44).attr("y1", r1).attr("y2", r1)
    .attr("stroke", "#ff00ff").attr("stroke-width", 1);
  lg.append("rect").attr("x", L.x + 25).attr("y", r2 - 1).attr("width", 2).attr("height", 2).attr("fill", "#000");
  lg.append("text").attr("x", L.x + 48).attr("y", r1 + 5).attr("font-size", 14).text("Exact");
  lg.append("text").attr("x", L.x + 48).attr("y", r2 + 5).attr("font-size", 14).text(p.name);
});
</script>
</body>
</html>
